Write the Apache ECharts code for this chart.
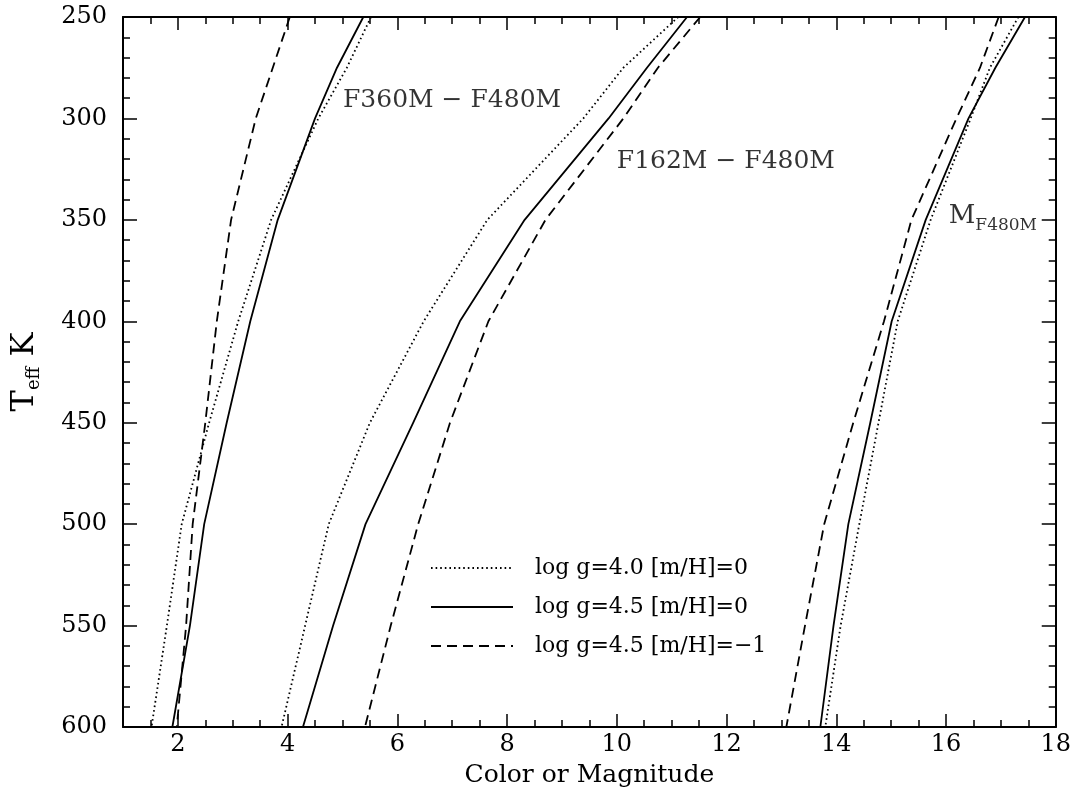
<!DOCTYPE html>
<html>
<head>
<meta charset="utf-8">
<script src="https://cdn.jsdelivr.net/npm/echarts@6/dist/echarts.min.js"></script>
<style>
  html, body { margin: 0; padding: 0; background: #fff; }
  #chart { width: 1074px; height: 793px; }
</style>
</head>
<body>
<div id="chart"></div>
<script>
// Teff grid (K) shared by every curve
const teff = [250, 275, 300, 350, 400, 450, 500, 550, 600];

// F360M - F480M colour
const f360G40 = [5.52, 5.08, 4.56, 3.70, 3.10, 2.57, 2.07, 1.80, 1.52];
const f360G45 = [5.38, 4.90, 4.50, 3.82, 3.32, 2.89, 2.48, 2.22, 1.90];
const f360G45m = [4.04, 3.73, 3.42, 2.97, 2.71, 2.50, 2.27, 2.15, 1.98];

// F162M - F480M colour
const f162G40 = [11.12, 10.12, 9.39, 7.64, 6.48, 5.50, 4.75, 4.32, 3.89];
const f162G45 = [11.28, 10.55, 9.85, 8.32, 7.14, 6.29, 5.42, 4.83, 4.28];
const f162G45m = [11.52, 10.75, 10.12, 8.70, 7.66, 6.96, 6.38, 5.88, 5.41];

// absolute magnitude M_F480M
const m480G40 = [17.32, 16.80, 16.45, 15.72, 15.12, 14.77, 14.42, 14.08, 13.80];
const m480G45 = [17.44, 16.90, 16.41, 15.63, 15.01, 14.62, 14.22, 13.95, 13.71];
const m480G45m = [16.96, 16.62, 16.19, 15.37, 14.87, 14.31, 13.78, 13.43, 13.09];

const seriesNames = ['log g=4.0 [m/H]=0', 'log g=4.5 [m/H]=0', 'log g=4.5 [m/H]=\u22121'];

// tick values
const xMajorTicks = [2, 4, 6, 8, 10, 12, 14, 16, 18];
const xMinorTicks = [];
for (let v = 1.5; v < 18; v += 0.5) {
  if (v % 2 !== 0) xMinorTicks.push(v);
}

// curve labels (text, x, Teff)
const noteText = ['F360M \u2212 F480M', 'F162M \u2212 F480M', '{m|M}{s|F480M}'];
const noteX = [5.01, 10.0, 16.05];
const noteT = [291, 321, 348];

const SERIF = 'DejaVu Serif';

// join the three groups into one polyline with breaks
function joinGroups(groups) {
  const out = [];
  groups.forEach((g, i) => {
    if (i) out.push(['-', '-']);
    g.forEach((x, j) => out.push([x, teff[j]]));
  });
  return out;
}

const chart = echarts.init(document.getElementById('chart'), null, {renderer: 'canvas'});

const lineBase = {
  type: 'line',
  showSymbol: false,
  symbol: 'none',
  connectNulls: false,
  silent: true,
  itemStyle: {color: '#000'}
};

function xAxisDef(pos, major, showLabel, showName) {
  return {
    type: 'value',
    position: pos,
    min: 1,
    max: 18,
    axisLine: {show: major, lineStyle: {color: '#000', width: 2}},
    axisTick: {
      show: true,
      inside: true,
      customValues: major ? xMajorTicks : xMinorTicks,
      length: major ? 13 : 7,
      lineStyle: {color: '#000', width: 1.5}
    },
    axisLabel: {
      show: showLabel,
      customValues: xMajorTicks,
      margin: 6,
      color: '#000',
      fontFamily: SERIF,
      fontSize: 24
    },
    splitLine: {show: false},
    name: showName ? 'Color or Magnitude' : '',
    nameLocation: 'middle',
    nameGap: 36,
    nameTextStyle: {color: '#000', fontFamily: SERIF, fontSize: 25}
  };
}

function yAxisDef(pos, showLabel) {
  return {
    type: 'value',
    position: pos,
    inverse: true,
    min: 250,
    max: 600,
    interval: 50,
    axisLine: {show: true, lineStyle: {color: '#000', width: 2}},
    axisTick: {show: true, inside: true, length: 14, lineStyle: {color: '#000', width: 1.5}},
    minorTick: {show: true, splitNumber: 5, length: 7, lineStyle: {color: '#000', width: 1.5}},
    axisLabel: {show: showLabel, margin: 16, color: '#000', fontFamily: SERIF, fontSize: 24},
    splitLine: {show: false},
    minorSplitLine: {show: false},
    name: showLabel ? '{t|T}{s|eff}{t| K}' : '',
    nameLocation: 'middle',
    nameRotate: 90,
    nameGap: 80,
    nameTextStyle: {
      color: '#000',
      rich: {
        t: {fontFamily: SERIF, fontSize: 32, color: '#000'},
        s: {fontFamily: SERIF, fontSize: 18, color: '#000', padding: [18, 0, 0, 0]}
      }
    }
  };
}

const option = {
  animation: false,
  backgroundColor: '#fff',
  grid: {left: 123, right: 18, top: 17, bottom: 63, containLabel: false},
  legend: {
    data: seriesNames,
    orient: 'vertical',
    left: 425,
    top: 552,
    itemWidth: 82,
    itemHeight: 14,
    itemGap: 17,
    selectedMode: false,
    itemStyle: {opacity: 0},
    textStyle: {color: '#000', fontFamily: SERIF, fontSize: 22, padding: [0, 0, 0, 17]}
  },
  xAxis: [
    xAxisDef('bottom', true, true, true),
    xAxisDef('bottom', false, false, false),
    xAxisDef('top', true, false, false),
    xAxisDef('top', false, false, false)
  ],
  yAxis: [
    yAxisDef('left', true),
    yAxisDef('right', false)
  ],
  series: [
    Object.assign({}, lineBase, {
      name: seriesNames[0],
      data: joinGroups([f360G40, f162G40, m480G40]),
      lineStyle: {color: '#000', width: 1.8, type: [1.6, 3], cap: 'butt'}
    }),
    Object.assign({}, lineBase, {
      name: seriesNames[1],
      data: joinGroups([f360G45, f162G45, m480G45]),
      lineStyle: {color: '#000', width: 1.8, type: 'solid'}
    }),
    Object.assign({}, lineBase, {
      name: seriesNames[2],
      data: joinGroups([f360G45m, f162G45m, m480G45m]),
      lineStyle: {color: '#000', width: 1.8, type: [10, 6], cap: 'butt'}
    }),
    {
      type: 'scatter',
      symbolSize: 0,
      silent: true,
      data: noteX.map((x, i) => ({value: [x, noteT[i]], label: {formatter: noteText[i]}})),
      label: {
        show: true,
        position: 'right',
        distance: 0,
        color: '#000',
        fontFamily: SERIF,
        fontSize: 25,
        rich: {
          m: {fontFamily: SERIF, fontSize: 26, color: '#000'},
          s: {fontFamily: SERIF, fontSize: 17, color: '#000', padding: [20, 0, 0, 0]}
        }
      }
    }
  ]
};

chart.setOption(option);
</script>
</body>
</html>
